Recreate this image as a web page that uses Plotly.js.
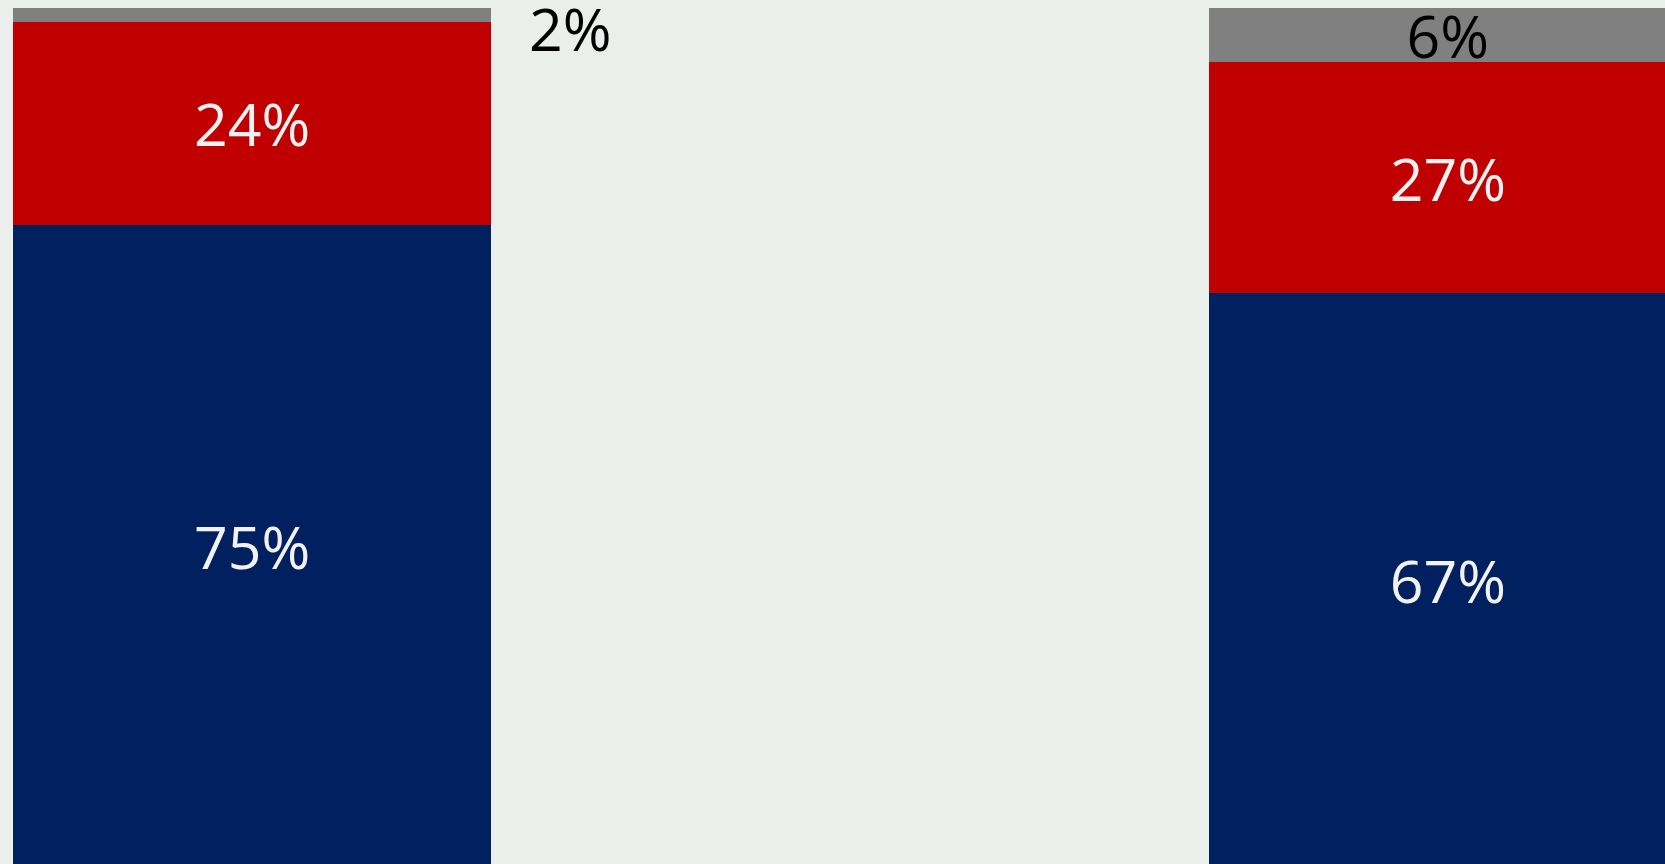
<!DOCTYPE html>
<html>
<head>
<meta charset="utf-8">
<script src="https://cdn.plot.ly/plotly-3.0.1.min.js"></script>
<style>
html,body{margin:0;padding:0;background:#EBEFEB;overflow:hidden;}
#chart{width:1665px;height:864px;}
</style>
</head>
<body>
<div id="chart"></div>
<script>
// Data (percent shares)
const categories = [0, 1];
const seriesBlue = [74.8, 66.8];
const seriesRed  = [23.6, 26.9];
const seriesGray = [1.6, 6.3];

const BAR_WIDTH = 0.4;
const FONT = '"Open Sans", "DejaVu Sans", sans-serif';
const SIZE = 59;
const WHITE = '#F2F2F2';

function barTrace(y, color, textColors, templates) {
  return {
    type: 'bar',
    x: categories,
    y: y,
    width: BAR_WIDTH,
    marker: {color: color, line: {width: 0}},
    texttemplate: templates,
    textposition: 'inside',
    insidetextanchor: 'middle',
    constraintext: 'none',
    textangle: 0,
    textfont: {family: FONT, size: SIZE, color: textColors},
    hoverinfo: 'skip',
    cliponaxis: false
  };
}

const data = [
  barTrace(seriesBlue, '#002060', [WHITE, WHITE], ['%{y:.0f}%', '%{y:.0f}%']),
  barTrace(seriesRed,  '#C00000', [WHITE, WHITE], ['%{y:.0f}%', '%{y:.0f}%']),
  barTrace(seriesGray, '#808080', ['#000000', '#000000'], ['', '%{y:.0f}%'])
];

// label for the thin gray segment of the first bar, placed beside the bar
const topLeft = seriesBlue[0] + seriesRed[0] + seriesGray[0];
const annotations = [{
  x: categories[0] + BAR_WIDTH / 2,
  y: topLeft,
  xref: 'x', yref: 'y',
  text: Math.round(seriesGray[0]) + '%',
  showarrow: false,
  xanchor: 'left', yanchor: 'top',
  xshift: 36, yshift: 22,
  font: {family: FONT, size: SIZE, color: '#000000'}
}];

const layout = {
  width: 1665, height: 864,
  margin: {l: 0, r: 0, t: 0, b: 0, pad: 0},
  paper_bgcolor: '#EBEFEB',
  plot_bgcolor: '#EBEFEB',
  barmode: 'stack',
  showlegend: false,
  xaxis: {range: [-0.2109, 1.1816], visible: false, fixedrange: true},
  yaxis: {range: [0.384, 100.93], visible: false, fixedrange: true},
  annotations: annotations
};

Plotly.newPlot('chart', data, layout, {staticPlot: true, displayModeBar: false});
</script>
</body>
</html>
